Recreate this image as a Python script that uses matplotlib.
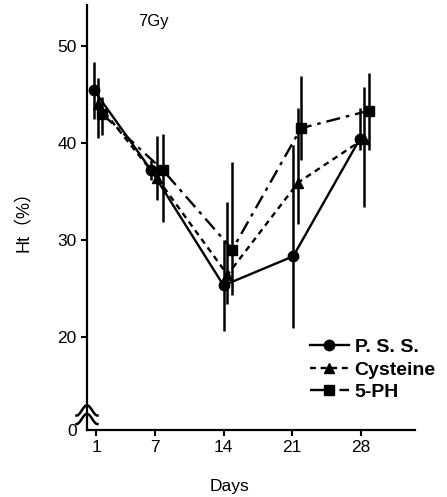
import numpy as np
import matplotlib
matplotlib.use("Agg")
import matplotlib.pyplot as plt

plt.rcParams['font.family'] = ['Liberation Sans', 'DejaVu Sans']

# day positions (markers are staggered a little per group) and Ht values (%)
days_pss = [0.8, 6.6, 14.0, 21.1, 27.9]
ht_pss = [45.4, 37.2, 25.3, 28.3, 40.4]
pss_lo = [3.0, 1.0, 4.7, 7.4, 1.1]
pss_hi = [2.9, 1.0, 4.7, 11.5, 3.2]

days_cys = [1.2, 7.2, 14.4, 21.6, 28.3]
ht_cys = [44.0, 36.4, 26.4, 35.9, 40.4]
cys_lo = [3.5, 2.3, 3.0, 4.3, 7.0]
cys_hi = [2.7, 4.3, 7.5, 7.7, 5.3]

days_ph = [1.6, 7.8, 14.9, 21.9, 28.8]
ht_ph = [43.0, 37.2, 29.0, 41.5, 43.3]
ph_lo = [2.2, 5.4, 4.7, 3.3, 4.0]
ph_hi = [1.7, 3.7, 9.0, 5.4, 3.9]

xticks = [1, 7, 14, 21, 28]
y_bottom = 10.4   # broken axis: bottom of the axis is labelled 0
yticks = [y_bottom, 20, 30, 40, 50]
ytick_labels = ["0", "20", "30", "40", "50"]

fig = plt.figure(figsize=(4.47, 4.97), dpi=100)
ax = fig.add_axes([0.1946, 0.1348, 0.7334, 0.8552])

series = [
    (days_pss, ht_pss, pss_lo, pss_hi, "-", "o", 7.5, "P. S. S."),
    (days_cys, ht_cys, cys_lo, cys_hi, (0, (2.5, 2.0)), "^", 7.0, "Cysteine"),
    (days_ph, ht_ph, ph_lo, ph_hi, (0, (6, 2.5, 1.5, 2.5)), "s", 7.0, "5-PH"),
]

handles = []
for d, h, lo, hi, ls, mk, ms, lab in series:
    ax.errorbar(d, h, yerr=[lo, hi], fmt="none", ecolor="k", elinewidth=1.8)
    ln, = ax.plot(d, h, color="k", ls=ls, lw=1.7, marker=mk, ms=ms,
                  label=lab)
    handles.append(ln)

ax.set_xlim(0.08, 33.5)
ax.set_ylim(y_bottom, 54.2)

ax.spines["top"].set_visible(False)
ax.spines["right"].set_visible(False)
ax.spines["left"].set_linewidth(1.6)
ax.spines["bottom"].set_linewidth(1.6)

ax.set_xticks(xticks)
ax.set_yticks(yticks)
ax.set_yticklabels(ytick_labels)
ax.tick_params(axis="both", labelsize=12.5, length=4, width=1.5)
ax.yaxis.get_major_ticks()[0].tick1line.set_visible(False)

ax.set_xlabel("Days", fontsize=12.5)
ax.xaxis.set_label_coords(0.435, -0.115)
ax.set_ylabel("Ht（%）", fontsize=13,
              family=['Liberation Sans', 'Noto Sans CJK JP'])
ax.yaxis.set_label_coords(-0.165, 0.5)

ax.text(0.155, 0.96, "7Gy", transform=ax.transAxes, fontsize=12,
        va="center", ha="left")

# axis break mark near the bottom of the y axis
t = np.linspace(-1, 1, 40)
for y0 in (0.05, 0.03):
    ax.plot(t * 0.032, y0 + 0.012 * np.cos(t * np.pi) - 0.004,
            transform=ax.transAxes, color="k", lw=1.8, clip_on=False)

ax.legend(handles=handles, loc="upper left", bbox_to_anchor=(0.68, 0.215),
          frameon=False, borderpad=0, borderaxespad=0, handlelength=2.0,
          handletextpad=0.3, labelspacing=0.25,
          prop={"weight": "bold", "size": 14})

fig.savefig("out.png", dpi=100)
